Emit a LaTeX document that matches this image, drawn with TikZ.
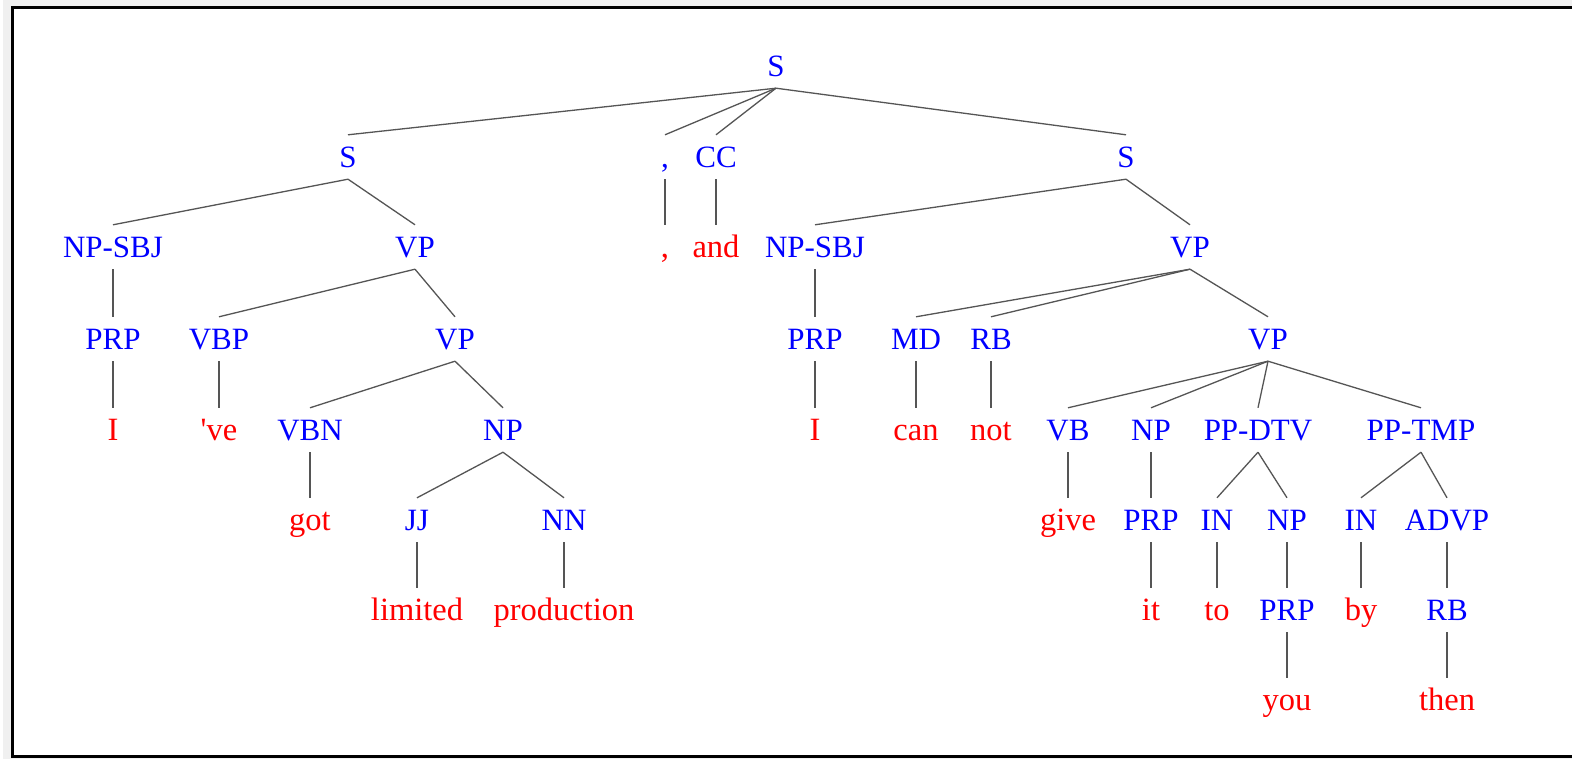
\documentclass[tikz,border=0pt]{standalone}
\usepackage{fontspec}
\setmainfont{Liberation Serif}
\usepackage{tikz}
\usetikzlibrary{positioning}
\usepackage{xcolor}
\definecolor{tagblue}{RGB}{0,0,255}
\definecolor{wordred}{RGB}{255,0,0}
\definecolor{edgegray}{RGB}{85,85,85}
\tikzstyle{tag} = [inner sep=0, minimum height=44pt, text height=21pt, text depth=0.5pt, text=tagblue, font=\fontsize{31}{36}\selectfont]
\tikzstyle{word} = [inner sep=0, minimum height=44pt, text height=21pt, text depth=0.5pt, text=wordred, font=\fontsize{32.5}{36}\selectfont]
\tikzstyle{edge} = [line width=1.3pt, color=edgegray]

\begin{document}
\begin{tikzpicture}[x=1pt, y=-1pt]
    % Frame
    \useasboundingbox (0,0) rectangle (1572,759);
    \fill[black!6] (3,0) rectangle (1572,759);
    \draw[line width=3pt, fill=white] (12,8) rectangle (1590,756);

    % Top
    \node[tag] (s) at (776,66) {S};
    \node[tag] (sa) at (348,157) {S};
    \node[tag] (comma) at (665,157) {,};
    \node[tag] (cc) at (716,157) {CC};
    \node[tag] (sb) at (1126,157) {S};

    % First clause
    \node[tag] (npsbja) at (113,247) {NP-SBJ};
    \node[tag] (vpa) at (415,247) {VP};
    \node[tag] (prpa) at (113,339) {PRP};
    \node[tag] (vbp) at (219,339) {VBP};
    \node[tag] (vpb) at (455,339) {VP};
    \node[word] (wI) at (113,430) {I};
    \node[word] (wve) at (219,430) {\textquotesingle ve};
    \node[tag] (vbn) at (310,430) {VBN};
    \node[tag] (npa) at (503,430) {NP};
    \node[word] (wgot) at (310,520) {got};
    \node[tag] (jj) at (417,520) {JJ};
    \node[tag] (nn) at (564,520) {NN};
    \node[word] (wlimited) at (417,610) {limited};
    \node[word] (wproduction) at (564,610) {production};

    % Conjunction
    \node[word] (wcomma) at (665,247) {,};
    \node[word] (wand) at (716,247) {and};

    % Second clause
    \node[tag] (npsbjb) at (815,247) {NP-SBJ};
    \node[tag] (vpc) at (1190,247) {VP};
    \node[tag] (prpb) at (815,339) {PRP};
    \node[tag] (md) at (916,339) {MD};
    \node[tag] (rba) at (991,339) {RB};
    \node[tag] (vpd) at (1268,339) {VP};
    \node[word] (wIb) at (815,430) {I};
    \node[word] (wcan) at (916,430) {can};
    \node[word] (wnot) at (991,430) {not};
    \node[tag] (vb) at (1068,430) {VB};
    \node[tag] (npb) at (1151,430) {NP};
    \node[tag] (ppdtv) at (1258,430) {PP-DTV};
    \node[tag] (pptmp) at (1421,430) {PP-TMP};
    \node[word] (wgive) at (1068,520) {give};
    \node[tag] (prpc) at (1151,520) {PRP};
    \node[tag] (ina) at (1217,520) {IN};
    \node[tag] (npc) at (1287,520) {NP};
    \node[tag] (inb) at (1361,520) {IN};
    \node[tag] (advp) at (1447,520) {ADVP};
    \node[word] (wit) at (1151,610) {it};
    \node[word] (wto) at (1217,610) {to};
    \node[tag] (prpd) at (1287,610) {PRP};
    \node[word] (wby) at (1361,610) {by};
    \node[tag] (rbb) at (1447,610) {RB};
    \node[word] (wyou) at (1287,700) {you};
    \node[word] (wthen) at (1447,700) {then};

    % Edges, top
    \draw[edge] (s.south) -- (sa.north);
    \draw[edge] (s.south) -- (comma.north);
    \draw[edge] (s.south) -- (cc.north);
    \draw[edge] (s.south) -- (sb.north);
    \draw[edge] (comma.south) -- (wcomma.north);
    \draw[edge] (cc.south) -- (wand.north);

    % Edges, first clause
    \draw[edge] (sa.south) -- (npsbja.north);
    \draw[edge] (sa.south) -- (vpa.north);
    \draw[edge] (npsbja.south) -- (prpa.north);
    \draw[edge] (prpa.south) -- (wI.north);
    \draw[edge] (vpa.south) -- (vbp.north);
    \draw[edge] (vpa.south) -- (vpb.north);
    \draw[edge] (vbp.south) -- (wve.north);
    \draw[edge] (vpb.south) -- (vbn.north);
    \draw[edge] (vpb.south) -- (npa.north);
    \draw[edge] (vbn.south) -- (wgot.north);
    \draw[edge] (npa.south) -- (jj.north);
    \draw[edge] (npa.south) -- (nn.north);
    \draw[edge] (jj.south) -- (wlimited.north);
    \draw[edge] (nn.south) -- (wproduction.north);

    % Edges, second clause
    \draw[edge] (sb.south) -- (npsbjb.north);
    \draw[edge] (sb.south) -- (vpc.north);
    \draw[edge] (npsbjb.south) -- (prpb.north);
    \draw[edge] (prpb.south) -- (wIb.north);
    \draw[edge] (vpc.south) -- (md.north);
    \draw[edge] (vpc.south) -- (rba.north);
    \draw[edge] (vpc.south) -- (vpd.north);
    \draw[edge] (md.south) -- (wcan.north);
    \draw[edge] (rba.south) -- (wnot.north);
    \draw[edge] (vpd.south) -- (vb.north);
    \draw[edge] (vpd.south) -- (npb.north);
    \draw[edge] (vpd.south) -- (ppdtv.north);
    \draw[edge] (vpd.south) -- (pptmp.north);
    \draw[edge] (vb.south) -- (wgive.north);
    \draw[edge] (npb.south) -- (prpc.north);
    \draw[edge] (prpc.south) -- (wit.north);
    \draw[edge] (ppdtv.south) -- (ina.north);
    \draw[edge] (ppdtv.south) -- (npc.north);
    \draw[edge] (ina.south) -- (wto.north);
    \draw[edge] (npc.south) -- (prpd.north);
    \draw[edge] (prpd.south) -- (wyou.north);
    \draw[edge] (pptmp.south) -- (inb.north);
    \draw[edge] (pptmp.south) -- (advp.north);
    \draw[edge] (inb.south) -- (wby.north);
    \draw[edge] (advp.south) -- (rbb.north);
    \draw[edge] (rbb.south) -- (wthen.north);
\end{tikzpicture}
\end{document}
